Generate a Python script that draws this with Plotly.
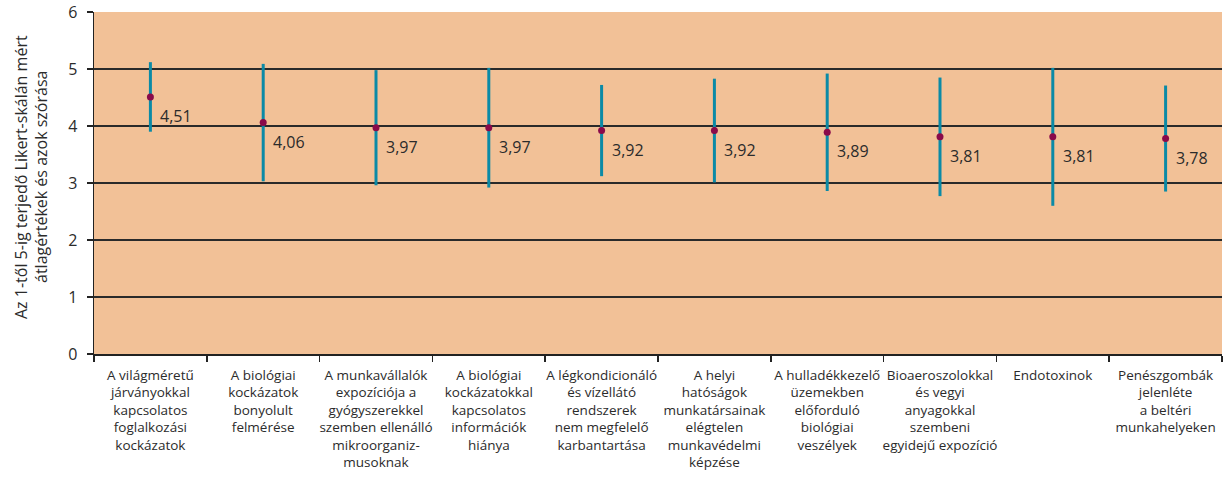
import plotly.graph_objects as go

categories = [
    "A világméretű<br>járványokkal<br>kapcsolatos<br>foglalkozási<br>kockázatok",
    "A biológiai<br>kockázatok<br>bonyolult<br>felmérése",
    "A munkavállalók<br>expozíciója a<br>gyógyszerekkel<br>szemben ellenálló<br>mikroorganiz-<br>musoknak",
    "A biológiai<br>kockázatokkal<br>kapcsolatos<br>információk<br>hiánya",
    "A légkondicionáló<br>és vízellátó<br>rendszerek<br>nem megfelelő<br>karbantartása",
    "A helyi<br>hatóságok<br>munkatársainak<br>elégtelen<br>munkavédelmi<br>képzése",
    "A hulladékkezelő<br>üzemekben<br>előforduló<br>biológiai<br>veszélyek",
    "Bioaeroszolokkal<br>és vegyi<br>anyagokkal<br>szembeni<br>egyidejű expozíció",
    "Endotoxinok",
    "Penészgombák<br>jelenléte<br>a beltéri<br>munkahelyeken",
]
means = [4.51, 4.06, 3.97, 3.97, 3.92, 3.92, 3.89, 3.81, 3.81, 3.78]
sds = [0.61, 1.03, 1.01, 1.05, 0.80, 0.91, 1.03, 1.04, 1.21, 0.93]
mean_labels = ["4,51", "4,06", "3,97", "3,97", "3,92", "3,92", "3,89", "3,81", "3,81", "3,78"]
y_ticks = [0, 1, 2, 3, 4, 5, 6]
y_title_lines = ["Az 1-től 5-ig terjedő Likert-skálán mért",
                 "átlagértékek és azok szórása"]

FONT = "Open Sans"
TEXT = "#2b2b2b"

fig = go.Figure()
fig.add_trace(go.Scatter(
    x=categories, y=means, mode="markers",
    marker=dict(color="#8a0a4a", size=7, line=dict(width=0)),
    error_y=dict(type="data", array=sds, symmetric=True, color="#0b8aa6",
                 thickness=3, width=0),
    showlegend=False, hoverinfo="skip",
))

for c, m, lab in zip(categories, means, mean_labels):
    fig.add_annotation(x=c, y=m, text=lab, showarrow=False, xanchor="left",
                       yanchor="middle", xshift=8, yshift=-19,
                       font=dict(family=FONT, size=16, color=TEXT))

# two-line y-axis title as rotated annotations
for i, line in enumerate(y_title_lines):
    fig.add_annotation(xref="paper", yref="paper", x=0, y=0.5,
                       xanchor="center", yanchor="middle",
                       xshift=-73 + 20 * i, yshift=6, textangle=-90,
                       text=line, showarrow=False,
                       font=dict(family=FONT, size=16, color=TEXT))

fig.update_layout(
    width=1232, height=500,
    margin=dict(l=94, r=10, t=12, b=146),
    paper_bgcolor="white", plot_bgcolor="#f2c197",
    font=dict(family=FONT, color=TEXT),
)
fig.update_xaxes(
    type="category", tickson="boundaries", ticks="outside", ticklen=6,
    tickcolor="#222", tickwidth=1.5, showline=True, linecolor="#222",
    linewidth=1.5, showgrid=False, tickangle=0, automargin=False,
    ticklabelstandoff=8, ticklabeloverflow="allow",
    tickfont=dict(family=FONT, size=13.5, color=TEXT),
    range=[-0.5, len(categories) - 0.5], fixedrange=True,
)
fig.update_yaxes(
    range=[0, 6], tickvals=y_ticks, ticks="outside", ticklen=6,
    tickcolor="#222", tickwidth=1.5, showline=True, linecolor="#222",
    linewidth=1.5, showgrid=True, gridcolor="#2a2a2a", gridwidth=1.5,
    zeroline=False, automargin=False, ticklabelstandoff=6,
    ticklabeloverflow="allow", fixedrange=True,
    tickfont=dict(family=FONT, size=16, color=TEXT),
)

fig.write_html("out.html",
               config={"displayModeBar": False, "staticPlot": True},
               post_script="document.body.style.margin='0px';")
